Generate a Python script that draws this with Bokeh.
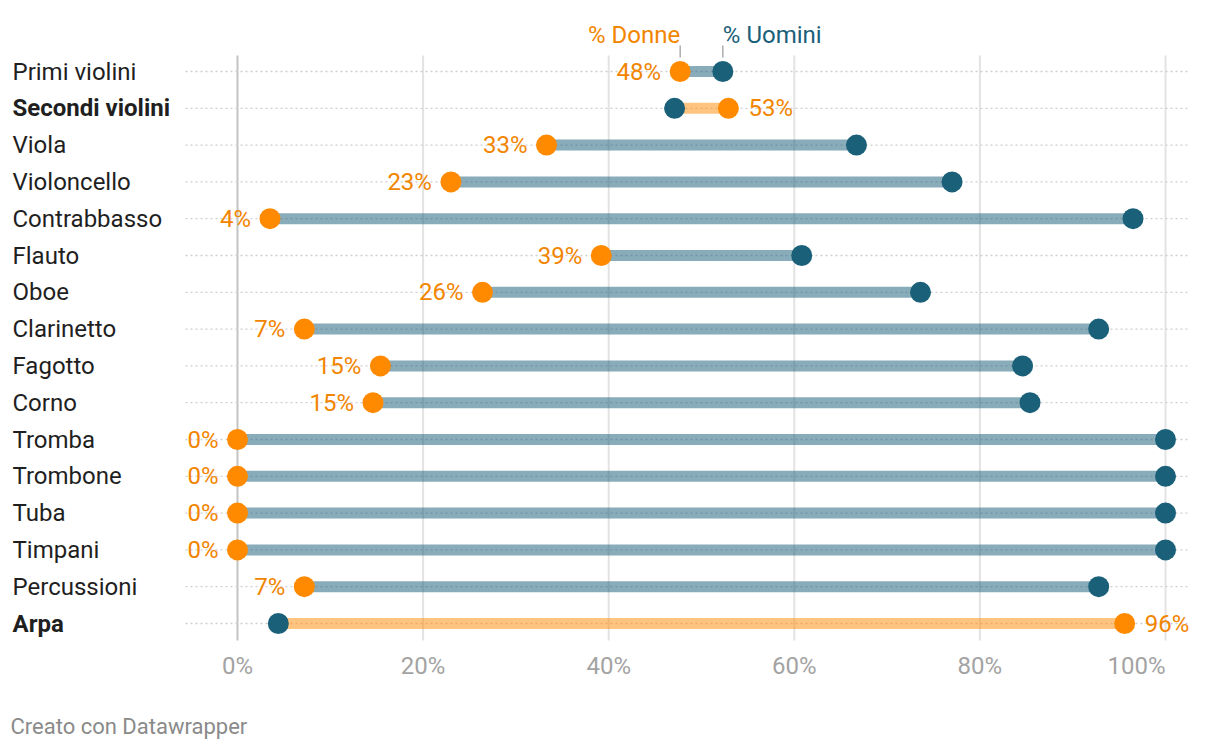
from bokeh.plotting import figure
from bokeh.models import ColumnDataSource, Range1d
from bokeh.core.properties import value
from bokeh.embed import file_html
from bokeh.resources import INLINE

categories = ["Primi violini", "Secondi violini", "Viola", "Violoncello", "Contrabbasso",
              "Flauto", "Oboe", "Clarinetto", "Fagotto", "Corno", "Tromba", "Trombone",
              "Tuba", "Timpani", "Percussioni", "Arpa"]
bold_categories = ["Secondi violini", "Arpa"]
donne = [47.7, 52.9, 33.3, 23.0, 3.5, 39.2, 26.4, 7.2, 15.4, 14.6, 0, 0, 0, 0, 7.2, 95.6]
uomini = [52.3, 47.1, 66.7, 77.0, 96.5, 60.8, 73.6, 92.8, 84.6, 85.4, 100, 100, 100, 100, 92.8, 4.4]
x_ticks = [0, 20, 40, 60, 80, 100]
x_tick_labels = ["0%", "20%", "40%", "60%", "80%", "100%"]

W, H = 1204, 746
PX_PER_UNIT = 9.28
X0 = 237          # canvas x of 0%
ROW0 = 71         # canvas y of first row
ROW_STEP = 36.8

def sx(px):
    return (px - X0) / PX_PER_UNIT

def sy(py):
    return (py - ROW0) / ROW_STEP

FONT = "Roboto"
FS = "24px"
ORANGE = "#ff8a00"
ORANGE_TXT = "#f28500"
TEAL = "#1a6079"

p = figure(width=W, height=H, output_backend="svg", toolbar_location=None,
           x_range=Range1d(-X0 / PX_PER_UNIT, (W - X0) / PX_PER_UNIT),
           y_range=Range1d((H - ROW0) / ROW_STEP, -ROW0 / ROW_STEP),
           min_border=0, outline_line_color=None)
p.axis.visible = False
p.grid.visible = False
p.background_fill_color = "white"
p.border_fill_color = "white"

n = len(categories)
ys = list(range(n))

# vertical gridlines
grid_colors = ["#c4c4c4" if t == 0 else "#e3e3e3" for t in x_ticks]
p.segment(x0=x_ticks, x1=x_ticks, y0=[sy(55)] * len(x_ticks), y1=[sy(640)] * len(x_ticks),
          line_color=grid_colors, line_width=2)

# dotted row lines
p.segment(x0=[sx(185)] * n, x1=[sx(1190)] * n, y0=ys, y1=ys,
          line_color="#cfcfcf", line_width=1.3, line_dash="2 3")

# bars
lo = [min(d, u) for d, u in zip(donne, uomini)]
hi = [max(d, u) for d, u in zip(donne, uomini)]
bar_colors = [TEAL if u >= d else ORANGE for d, u in zip(donne, uomini)]
bar_alpha = [0.52 if u >= d else 0.5 for d, u in zip(donne, uomini)]
p.segment(x0=lo, x1=hi, y0=ys, y1=ys, line_color=bar_colors, line_alpha=bar_alpha,
          line_width=11, line_cap="butt")

# dots
p.scatter(x=uomini, y=ys, size=21, fill_color=TEAL, line_color=None)
p.scatter(x=donne, y=ys, size=21, fill_color=ORANGE, line_color=None)

# value labels
left_src = ColumnDataSource(dict(
    x=[d for d, u in zip(donne, uomini) if d < u],
    y=[i for i, (d, u) in enumerate(zip(donne, uomini)) if d < u],
    t=[f"{round(d)}%" for d, u in zip(donne, uomini) if d < u]))
right_src = ColumnDataSource(dict(
    x=[d for d, u in zip(donne, uomini) if d >= u],
    y=[i for i, (d, u) in enumerate(zip(donne, uomini)) if d >= u],
    t=[f"{round(d)}%" for d, u in zip(donne, uomini) if d >= u]))
p.text(x="x", y="y", text="t", source=left_src, text_align="right", text_baseline="middle",
       x_offset=-19, text_color=ORANGE_TXT, text_font=value(FONT), text_font_size=FS)
p.text(x="x", y="y", text="t", source=right_src, text_align="left", text_baseline="middle",
       x_offset=20, text_color=ORANGE_TXT, text_font=value(FONT), text_font_size=FS)

# category labels
normal = [(c, i) for i, c in enumerate(categories) if c not in bold_categories]
bold = [(c, i) for i, c in enumerate(categories) if c in bold_categories]
p.text(x=[sx(12)] * len(normal), y=[i for _, i in normal], text=[c for c, _ in normal],
       text_align="left", text_baseline="middle", text_color="#1f1f1f",
       text_font=value(FONT), text_font_size=FS)
p.text(x=[sx(12)] * len(bold), y=[i for _, i in bold], text=[c for c, _ in bold],
       text_align="left", text_baseline="middle", text_color="#1f1f1f",
       text_font=value(FONT), text_font_size=FS, text_font_style="bold")

# x tick labels
aligns = ["right" if t == max(x_ticks) else "center" for t in x_ticks]
tick_src = ColumnDataSource(dict(x=x_ticks, t=x_tick_labels, a=aligns,
                                 y=[sy(665)] * len(x_ticks)))
p.text(x="x", y="y", text="t", text_align="a", source=tick_src, text_baseline="middle",
       text_color="#a3a3a3", text_font=value(FONT), text_font_size=FS)

# legend header
p.segment(x0=[donne[0], uomini[0]], x1=[donne[0], uomini[0]],
          y0=[sy(45)] * 2, y1=[sy(57)] * 2, line_color="#999999", line_width=1.2)
p.text(x=[donne[0]], y=[sy(34)], text=["% Donne"], text_align="right", text_baseline="middle",
       text_color=ORANGE_TXT, text_font=value(FONT), text_font_size=FS)
p.text(x=[uomini[0]], y=[sy(34)], text=["% Uomini"], text_align="left", text_baseline="middle",
       text_color=TEAL, text_font=value(FONT), text_font_size=FS)

# credit
p.text(x=[sx(10)], y=[sy(726)], text=["Creato con Datawrapper"], text_align="left",
       text_baseline="middle", text_color="#8a8a8a", text_font=value(FONT),
       text_font_size="22px")

open("out.html", "w").write(file_html(p, INLINE))
